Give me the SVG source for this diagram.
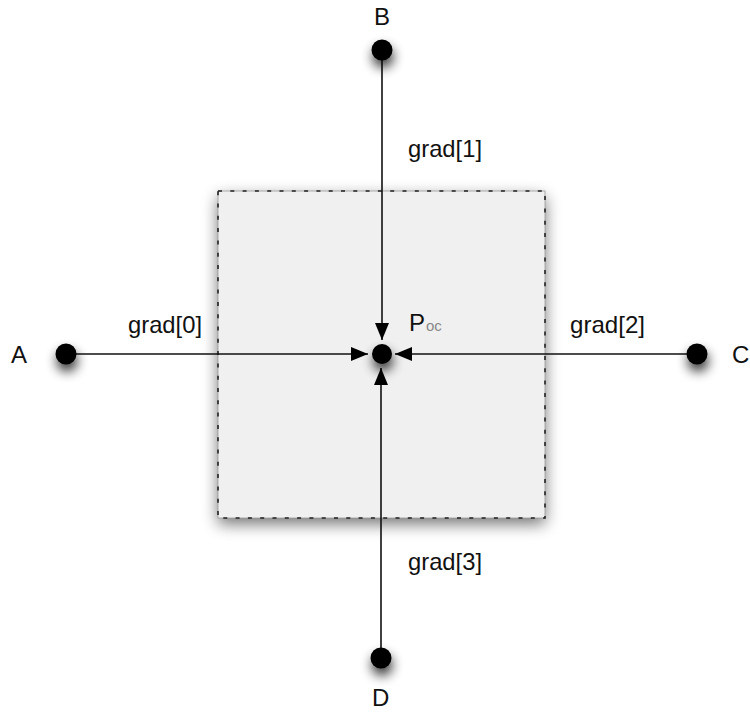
<svg xmlns="http://www.w3.org/2000/svg" width="750" height="713" viewBox="0 0 750 713">
<style>
.lbl{font-family:"Liberation Sans",Arial,sans-serif;font-size:24px;fill:#111}
.edge{stroke:#111;stroke-width:1.6;fill:none}
.dot{fill:#000}
</style>
<defs>
<filter id="sh" x="-150%" y="-150%" width="400%" height="400%">
<feGaussianBlur in="SourceAlpha" stdDeviation="6"/>
<feOffset dx="1" dy="7"/>
<feComponentTransfer><feFuncA type="linear" slope="0.8"/></feComponentTransfer>
<feMerge><feMergeNode/><feMergeNode in="SourceGraphic"/></feMerge>
</filter>
<filter id="bsh" x="-20%" y="-20%" width="140%" height="140%">
<feGaussianBlur in="SourceAlpha" stdDeviation="8"/>
<feOffset dx="0" dy="6"/>
<feComponentTransfer><feFuncA type="linear" slope="0.55"/></feComponentTransfer>
<feMerge><feMergeNode/><feMergeNode in="SourceGraphic"/></feMerge>
</filter>
<marker id="ah" markerWidth="17" markerHeight="14" refX="17" refY="7" orient="auto" markerUnits="userSpaceOnUse">
<path d="M0,0 L17,7 L0,14 Z" fill="#000"/>
</marker>
</defs>
<g id="box">
<rect x="218" y="191" width="327" height="327" fill="#f0f0f0" filter="url(#bsh)"/>
<rect x="218" y="191" width="327" height="327" fill="none" stroke="#999" stroke-width="0.8"/>
<rect x="218" y="191" width="327" height="327" fill="none" stroke="#222" stroke-width="1.6" stroke-dasharray="4,8.3"/>
</g>
<g id="connectors">
<line class="edge" x1="76" y1="354" x2="368" y2="354" marker-end="url(#ah)"/>
<line class="edge" x1="382" y1="50" x2="382" y2="340" marker-end="url(#ah)"/>
<line class="edge" x1="697" y1="354" x2="395" y2="354" marker-end="url(#ah)"/>
<line class="edge" x1="381" y1="658" x2="381" y2="368" marker-end="url(#ah)"/>
<text class="lbl" x="128" y="333" textLength="74" lengthAdjust="spacingAndGlyphs">grad[0]</text>
<text class="lbl" x="408" y="157" textLength="74" lengthAdjust="spacingAndGlyphs">grad[1]</text>
<text class="lbl" x="570" y="333" textLength="75" lengthAdjust="spacingAndGlyphs">grad[2]</text>
<text class="lbl" x="408" y="570" textLength="74" lengthAdjust="spacingAndGlyphs">grad[3]</text>
</g>
<g id="P">
<circle class="dot" cx="382" cy="354" r="10" filter="url(#sh)"/>
<text class="lbl" x="409" y="331">P<tspan font-size="15" fill="#888" dx="1">oc</tspan></text>
</g>
<g id="A">
<circle class="dot" cx="66" cy="354" r="10.5" filter="url(#sh)"/>
<text class="lbl" x="11" y="363">A</text>
</g>
<g id="B">
<circle class="dot" cx="382" cy="50" r="10.5" filter="url(#sh)"/>
<text class="lbl" x="374" y="25">B</text>
</g>
<g id="C">
<circle class="dot" cx="697" cy="354" r="10.5" filter="url(#sh)"/>
<text class="lbl" x="732" y="363">C</text>
</g>
<g id="D">
<circle class="dot" cx="381" cy="658" r="10.5" filter="url(#sh)"/>
<text class="lbl" x="372" y="706">D</text>
</g>
</svg>
